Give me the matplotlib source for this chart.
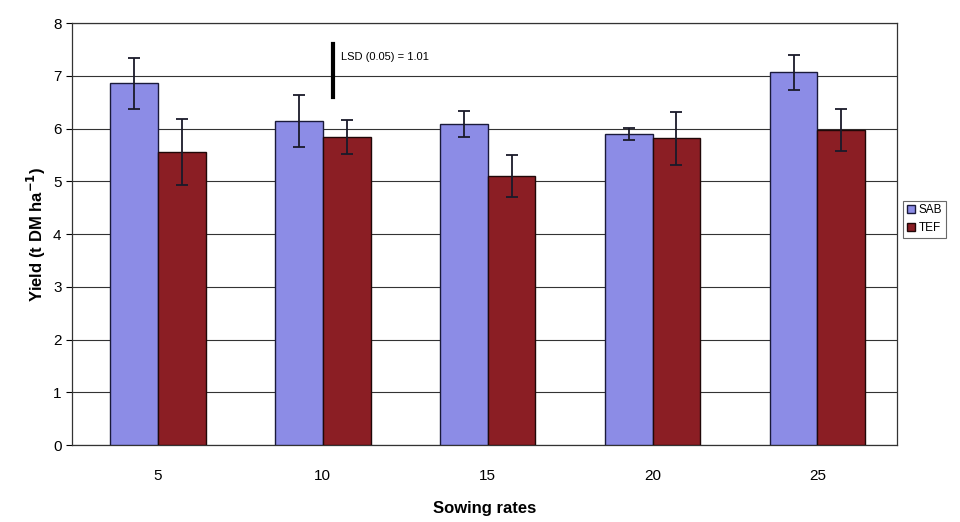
import matplotlib
matplotlib.use("Agg")
import matplotlib.pyplot as plt
import numpy as np

categories = ["5", "10", "15", "20", "25"]
sab = [6.86, 6.14, 6.09, 5.90, 7.07]
tef = [5.56, 5.84, 5.10, 5.82, 5.97]
sab_err = [0.48, 0.49, 0.25, 0.12, 0.33]
tef_err = [0.62, 0.32, 0.40, 0.50, 0.40]
lsd = 1.01

plt.rcParams['font.family'] = ['Liberation Sans', 'DejaVu Sans']

fig = plt.figure(figsize=(9.6, 5.22), dpi=100)
ax = fig.add_axes([0.075, 0.1475, 0.859, 0.808])

x = np.arange(len(categories))
w = 0.29
ax.bar(x - w/2, sab, w, color='#8C8CE6', edgecolor='#1a1a3a', linewidth=1.0,
       yerr=sab_err, error_kw=dict(ecolor='#1a1a2a', elinewidth=1.3, capsize=4, capthick=1.3),
       label='SAB', zorder=3)
ax.bar(x + w/2, tef, w, color='#8B1E24', edgecolor='#200808', linewidth=1.0,
       yerr=tef_err, error_kw=dict(ecolor='#1a1a2a', elinewidth=1.3, capsize=4, capthick=1.3),
       label='TEF', zorder=3)

# LSD bar
ax.plot([1.06, 1.06], [6.6, 6.6 + lsd], color='black', linewidth=3, zorder=4)
ax.text(1.11, 7.36, "LSD (0.05) = 1.01", fontsize=8, va='center', ha='left')

ax.set_xlim(-0.52, 4.48)
ax.set_ylim(0, 8)
ax.set_yticks(range(0, 9))
ax.set_xticks(x)
ax.set_xticklabels(categories, fontsize=11)
ax.tick_params(axis='y', labelsize=11, direction='out', length=4)
ax.tick_params(axis='x', length=0, pad=17)
ax.grid(axis='y', color='#333333', linewidth=0.8, zorder=0)
for s in ax.spines.values():
    s.set_color('#333333')
    s.set_linewidth(0.9)

ax.set_ylabel("Yield (t DM ha$^{\\mathbf{-1}}$)", fontsize=12, fontweight='bold')
ax.set_xlabel("Sowing rates", fontsize=12, fontweight='bold', labelpad=13)

leg = ax.legend(loc='center left', bbox_to_anchor=(1.008, 0.535), fontsize=8.5,
                handlelength=0.7, handleheight=0.7, handletextpad=0.3,
                borderpad=0.3, labelspacing=0.5, frameon=True, fancybox=False,
                borderaxespad=0)
leg.get_frame().set_edgecolor('#444444')
leg.get_frame().set_linewidth(0.8)

fig.savefig("out.png", dpi=100)
